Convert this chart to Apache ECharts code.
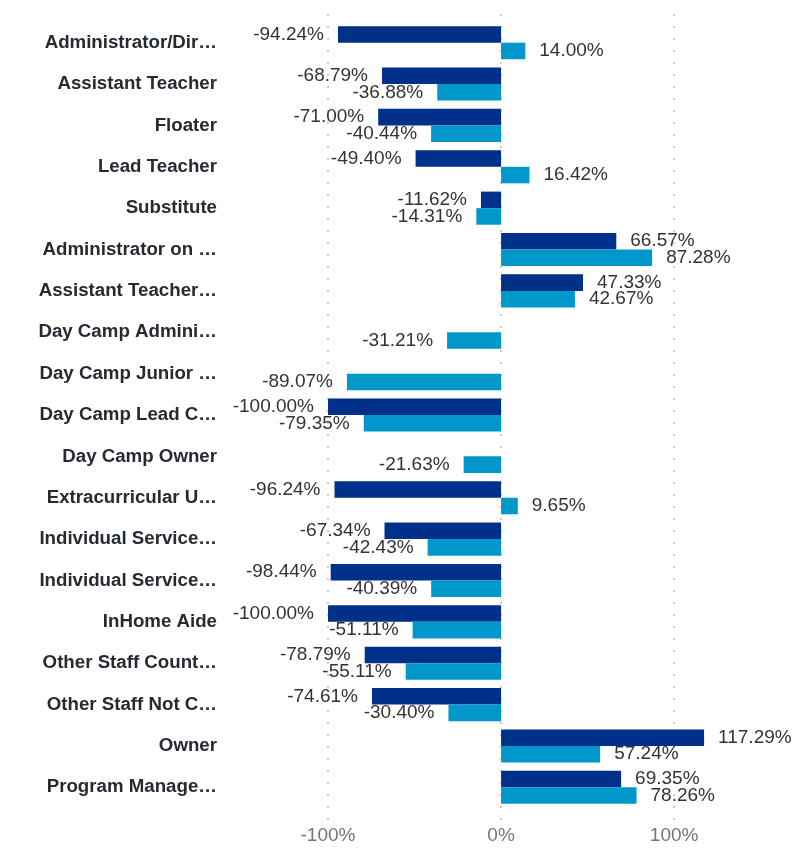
<!DOCTYPE html>
<html>
<head>
<meta charset="utf-8">
<script src="https://cdn.jsdelivr.net/npm/echarts@6/dist/echarts.min.js"></script>
<style>
  html, body { margin: 0; padding: 0; background: #fff; }
  #main { width: 804px; height: 852px; }
</style>
</head>
<body>
<div id="main"></div>
<script>
// categories, top to bottom
var categories = [
  'Administrator/Dir…', 'Assistant Teacher', 'Floater', 'Lead Teacher', 'Substitute',
  'Administrator on …', 'Assistant Teacher…', 'Day Camp Admini…', 'Day Camp Junior …',
  'Day Camp Lead C…', 'Day Camp Owner', 'Extracurricular U…', 'Individual Service…',
  'Individual Service…', 'InHome Aide', 'Other Staff Count…', 'Other Staff Not C…',
  'Owner', 'Program Manage…'
];
// dark series (null = no bar)
var darkValues = [
  -94.24, -68.79, -71.00, -49.40, -11.62,
  66.57, 47.33, null, null,
  -100.00, null, -96.24, -67.34,
  -98.44, -100.00, -78.79, -74.61,
  117.29, 69.35
];
// light series
var lightValues = [
  14.00, -36.88, -40.44, 16.42, -14.31,
  87.28, 42.67, -31.21, -89.07,
  -79.35, -21.63, 9.65, -42.43,
  -40.39, -51.11, -55.11, -30.40,
  57.24, 78.26
];
var xTicks = [-100, 0, 100];

var FONT = "'Liberation Sans', Arial, sans-serif";

function toItems(arr) {
  return arr.map(function (v) {
    if (v == null) return null;
    return { value: v, label: { position: v < 0 ? 'left' : 'right' } };
  });
}

var labelStyle = {
  show: true,
  distance: 14,
  fontFamily: FONT,
  fontSize: 19,
  color: '#333333',
  formatter: function (p) { return p.value.toFixed(2) + '%'; }
};

var chart = echarts.init(document.getElementById('main'));
chart.setOption({
  animation: false,
  grid: [
    { left: 328, right: 26, top: 22, height: 786 },
    // taller grid only for the dotted gridlines
    { left: 328, right: 26, top: 14, height: 806 }
  ],
  xAxis: [
    {
      type: 'value',
      gridIndex: 0,
      min: -100,
      max: 160,
      interval: 100,
      axisLine: { show: false },
      axisTick: { show: false },
      axisLabel: {
        margin: 18,
        fontFamily: FONT,
        fontSize: 19,
        color: '#757575',
        showMaxLabel: false,
        formatter: function (v) { return xTicks.indexOf(v) >= 0 ? v + '%' : ''; }
      },
      splitLine: { show: false }
    },
    {
      type: 'value',
      gridIndex: 1,
      min: -100,
      max: 160,
      interval: 100,
      axisLine: { show: false },
      axisTick: { show: false },
      axisLabel: { show: false },
      splitLine: {
        show: true,
        showMaxLine: false,
        lineStyle: { type: [2, 10], color: '#cccccc', width: 2 }
      }
    }
  ],
  yAxis: [
    {
      type: 'category',
      gridIndex: 0,
      inverse: true,
      data: categories,
      axisLine: { show: false, onZero: false },
      axisTick: { show: false },
      splitLine: { show: false },
      axisLabel: {
        margin: 111,
        fontFamily: FONT,
        fontSize: 18.7,
        fontWeight: 'bold',
        color: '#252a33'
      }
    },
    {
      type: 'value',
      gridIndex: 1,
      show: false
    }
  ],
  series: [
    {
      type: 'bar',
      data: toItems(darkValues),
      barGap: '0%',
      barCategoryGap: '20%',
      itemStyle: { color: '#00318a' },
      label: labelStyle
    },
    {
      type: 'bar',
      data: toItems(lightValues),
      barGap: '0%',
      barCategoryGap: '20%',
      itemStyle: { color: '#0098ca' },
      label: labelStyle
    }
  ]
});
</script>
</body>
</html>
